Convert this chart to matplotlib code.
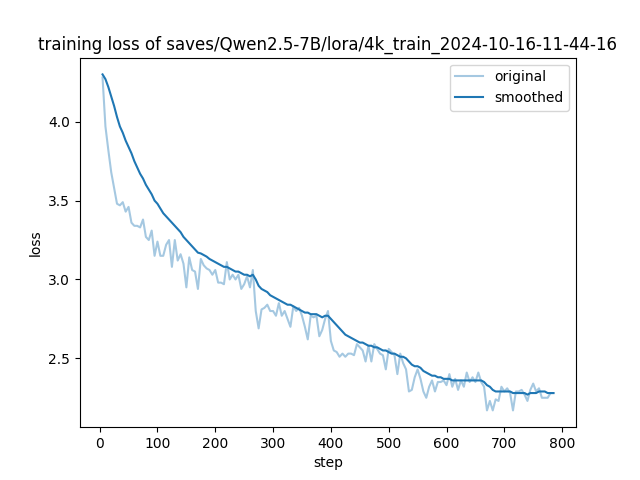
import numpy as np
import matplotlib
matplotlib.use('Agg')
import matplotlib.pyplot as plt

steps = np.arange(5, 790, 5)

original = [
    4.28, 3.97, 3.82, 3.68, 3.58, 3.48, 3.47, 3.49, 3.43, 3.46,
    3.36, 3.34, 3.34, 3.33, 3.38, 3.27, 3.25, 3.31, 3.15, 3.24,
    3.15, 3.15, 3.22, 3.25, 3.08, 3.25, 3.12, 3.16, 3.10, 2.95,
    3.14, 3.06, 3.05, 2.94, 3.13, 3.09, 3.07, 3.06, 3.03, 3.06,
    2.98, 2.98, 2.97, 3.11, 3.00, 3.03, 3.00, 3.03, 2.94, 2.97,
    3.02, 2.95, 3.06, 2.80, 2.69, 2.81, 2.82, 2.84, 2.80, 2.80,
    2.77, 2.85, 2.77, 2.80, 2.75, 2.70, 2.83, 2.80, 2.82, 2.77,
    2.70, 2.62, 2.77, 2.76, 2.77, 2.64, 2.68, 2.75, 2.80, 2.61,
    2.55, 2.54, 2.51, 2.53, 2.51, 2.53, 2.53, 2.52, 2.59, 2.57,
    2.55, 2.48, 2.58, 2.48, 2.59, 2.56, 2.53, 2.52, 2.43, 2.56,
    2.54, 2.52, 2.40, 2.53, 2.47, 2.43, 2.29, 2.30, 2.38, 2.43,
    2.37, 2.29, 2.25, 2.32, 2.36, 2.29, 2.35, 2.35, 2.36, 2.33,
    2.40, 2.32, 2.37, 2.30, 2.36, 2.32, 2.41, 2.35, 2.38, 2.35,
    2.41, 2.35, 2.32, 2.17, 2.23, 2.17, 2.24, 2.23, 2.32, 2.29,
    2.31, 2.28, 2.17, 2.29, 2.29, 2.30, 2.27, 2.23, 2.30, 2.34,
    2.29, 2.31, 2.25, 2.25, 2.25, 2.28, 2.28,
]

smoothed = [
    4.30, 4.27, 4.22, 4.16, 4.10, 4.03, 3.97, 3.93, 3.88, 3.84,
    3.80, 3.75, 3.71, 3.67, 3.64, 3.60, 3.57, 3.54, 3.50, 3.48,
    3.45, 3.42, 3.40, 3.38, 3.36, 3.34, 3.32, 3.30, 3.27, 3.25,
    3.23, 3.21, 3.19, 3.17, 3.165, 3.155, 3.145, 3.13, 3.12, 3.11,
    3.10, 3.09, 3.08, 3.08, 3.07, 3.06, 3.05, 3.05, 3.04, 3.03,
    3.03, 3.02, 3.03, 3.00, 2.96, 2.94, 2.93, 2.92, 2.90, 2.89,
    2.88, 2.87, 2.86, 2.85, 2.84, 2.84, 2.83, 2.82, 2.81, 2.80,
    2.79, 2.79, 2.78, 2.78, 2.78, 2.77, 2.76, 2.77, 2.77, 2.75,
    2.73, 2.71, 2.69, 2.67, 2.65, 2.64, 2.63, 2.62, 2.61, 2.60,
    2.60, 2.59, 2.58, 2.58, 2.57, 2.57, 2.56, 2.55, 2.55, 2.54,
    2.53, 2.53, 2.52, 2.51, 2.51, 2.50, 2.48, 2.46, 2.45, 2.45,
    2.44, 2.42, 2.41, 2.40, 2.39, 2.39, 2.38, 2.38, 2.37, 2.37,
    2.37, 2.36, 2.36, 2.36, 2.36, 2.36, 2.36, 2.36, 2.36, 2.36,
    2.36, 2.36, 2.35, 2.33, 2.32, 2.30, 2.29, 2.29, 2.29, 2.29,
    2.29, 2.29, 2.28, 2.28, 2.28, 2.28, 2.28, 2.27, 2.28, 2.28,
    2.28, 2.29, 2.29, 2.29, 2.28, 2.28, 2.28,
]

fig, ax = plt.subplots(figsize=(6.4, 4.8), dpi=100)
ax.plot(steps, original, color='#1f77b4', alpha=0.4, label='original')
ax.plot(steps, smoothed, color='#1f77b4', label='smoothed')
ax.set_title('training loss of saves/Qwen2.5-7B/lora/4k_train_2024-10-16-11-44-16')
ax.set_xlabel('step')
ax.set_ylabel('loss')
ax.legend(loc='upper right')
fig.savefig('out.png')
